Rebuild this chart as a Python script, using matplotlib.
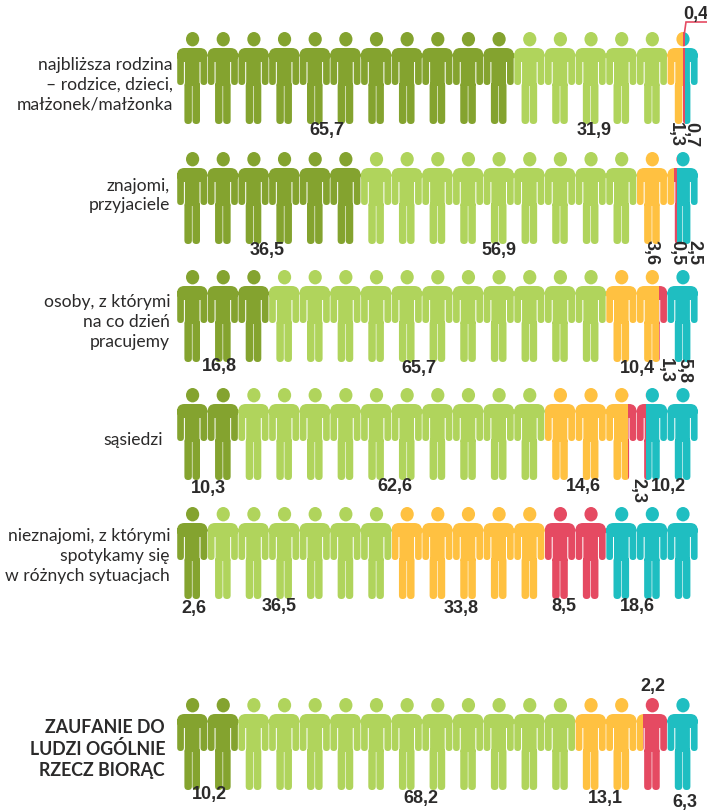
import matplotlib
matplotlib.use("Agg")
import matplotlib.pyplot as plt
from matplotlib.patches import PathPatch
from matplotlib.path import Path
from matplotlib.transforms import Affine2D

# ---- data ----
categories = ["najbliższa rodzina\n– rodzice, dzieci,\nmałżonek/małżonka",
              "znajomi,\nprzyjaciele",
              "osoby, z którymi\nna co dzień\npracujemy",
              "sąsiedzi",
              "nieznajomi, z którymi\nspotykamy się\nw różnych sytuacjach",
              "ZAUFANIE DO\nLUDZI OGÓLNIE\nRZECZ BIORĄC"]
# length of each coloured stretch as drawn, in figures of people
drawn_dark   = [11, 6, 3, 2, 1, 2]
drawn_light  = [5, 9, 11, 10, 6, 11]
drawn_orange = [0.50, 1.23, 1.72, 2.70, 5, 2.20]
drawn_red    = [0.06, 0.08, 0.28, 0.60, 2, 0.80]
drawn_teal   = [0.44, 0.69, 1.00, 1.70, 3, 1.00]
# printed values
label_dark   = ["65,7", "36,5", "16,8", "10,3", "2,6", "10,2"]
label_light  = ["31,9", "56,9", "65,7", "62,6", "36,5", "68,2"]
label_orange = ["1,3", "3,6", "10,4", "14,6", "33,8", "13,1"]
label_red    = ["0,4", "0,5", "1,3", "2,3", "8,5", "2,2"]
label_teal   = ["0,7", "2,5", "5,8", "10,2", "18,6", "6,3"]

# ---- layout (pixels) ----
W, H = 707, 811
ICON_W = 30.65
X0 = 177.0
N_ICONS = 17
ICON_H = 92
row_tops = [32, 152, 270, 388, 507, 698]
cat_y = [85, 195.5, 322, 440, 556, 749]
cat_right = [173, 170, 170, 163, 170, 165]
colors = ["#84A32F", "#B0D45C", "#FFC141", "#E54A62", "#1FBEC1"]

# (x px, y px, rotation) for each printed value, one row at a time
pos_dark = [(327, 131, 0), (267, 250, 0), (219, 367, 0), (208, 488, 0), (194, 608, 0), (209, 795, 0)]
pos_light = [(594, 131, 0), (499, 250, 0), (419, 369, 0), (395, 487, 0), (279, 607, 0), (421, 798, 0)]
pos_orange = [(675, 135, -90), (651, 253, -90), (637, 368, 0), (583, 487, 0), (461, 608, 0), (605, 799, 0)]
pos_red = [(696, 14, 0), (677, 253, -90), (665, 370, -90), (638, 491, -90), (564, 607, 0), (653, 686, 0)]
pos_teal = [(691, 135, -90), (694, 253, -90), (684, 370, -90), (668, 487, 0), (637, 607, 0), (685, 802, 0)]

fig = plt.figure(figsize=(W / 100, H / 100), dpi=100)
ax = fig.add_axes([0, 0, 1, 1])
ax.set_xlim(-X0 / ICON_W, (W - X0) / ICON_W)
ax.set_ylim(H, 0)
ax.axis("off")


def rrect(x0, y0, x1, y1, r, ox, oy):
    """Rounded rectangle, x/y in pixels relative to a figure's top-left, output in data units."""
    k = [
        ((x0 + r, y0), Path.MOVETO),
        ((x1 - r, y0), Path.LINETO), ((x1, y0), Path.CURVE3), ((x1, y0 + r), Path.CURVE3),
        ((x1, y1 - r), Path.LINETO), ((x1, y1), Path.CURVE3), ((x1 - r, y1), Path.CURVE3),
        ((x0 + r, y1), Path.LINETO), ((x0, y1), Path.CURVE3), ((x0, y1 - r), Path.CURVE3),
        ((x0, y0 + r), Path.LINETO), ((x0, y0), Path.CURVE3), ((x0 + r, y0), Path.CURVE3),
        ((x0 + r, y0), Path.CLOSEPOLY),
    ]
    verts = [(ox + px / ICON_W, oy + py) for (px, py), _ in k]
    return Path(verts, [c for _, c in k])


def person(i, top):
    parts = [
        Path.unit_circle().transformed(
            Affine2D().scale(6.6 / ICON_W, 7.2).translate(i + 15.6 / ICON_W, top + 7.2)),
        rrect(0, 16, 30.4, 30, 7.5, i, top),      # shoulders
        rrect(0.2, 20, 6.9, 53, 3.35, i, top),    # left arm
        rrect(23.5, 20, 30.2, 53, 3.35, i, top),  # right arm
        rrect(7.9, 20, 22.5, 54, 0.5, i, top),    # torso
        rrect(7.4, 50, 14.9, ICON_H, 3.7, i, top),   # left leg
        rrect(15.5, 50, 23.0, ICON_H, 3.7, i, top),  # right leg
    ]
    return Path.make_compound_path(*parts)


series = [drawn_dark, drawn_light, drawn_orange, drawn_red, drawn_teal]
for r, top in enumerate(row_tops):
    figures = Path.make_compound_path(*[person(i, top) for i in range(N_ICONS)])
    left = 0.0
    for values, color in zip(series, colors):
        # the stacked bar fixes how far this colour runs; the row of figures is painted inside it
        bars = ax.barh(top, values[r], left=left, height=ICON_H, align="edge",
                       color=color, linewidth=0, alpha=0)
        patch = PathPatch(figures, facecolor=color, edgecolor="none", linewidth=0)
        ax.add_patch(patch)
        patch.set_clip_path(bars[0])
        left += values[r]

# category labels
for r, text in enumerate(categories):
    bold = r == len(categories) - 1
    ax.text((cat_right[r] - X0) / ICON_W, cat_y[r], text, ha="right", va="center",
            family="Lato", fontsize=12.6 if not bold else 12.8,
            fontweight="bold" if bold else "normal", color="#2b2a2a", linespacing=1.3)

# printed values
for labels, positions in zip([label_dark, label_light, label_orange, label_red, label_teal],
                             [pos_dark, pos_light, pos_orange, pos_red, pos_teal]):
    for text, (px, py, rot) in zip(labels, positions):
        ax.text((px - X0) / ICON_W, py, text, ha="center", va="center", rotation=rot,
                family="Liberation Sans", fontweight="bold", fontsize=13, color="#2b2a2a",
                clip_on=False)

# leader line for the smallest value of the first row
ax.plot([(684 - X0) / ICON_W, (686 - X0) / ICON_W, (707 - X0) / ICON_W], [36, 22, 22],
        color=colors[3], lw=1.2, solid_joinstyle="miter")

fig.savefig("out.png", dpi=100)
